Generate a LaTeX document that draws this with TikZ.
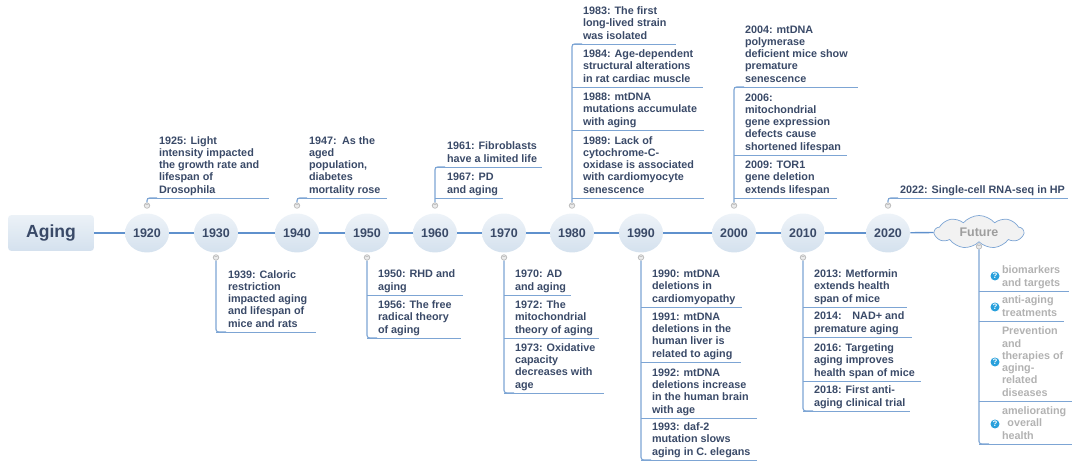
\documentclass[tikz,border=0pt]{standalone}
\usepackage{fontspec}
\setmainfont{Liberation Sans}
\usetikzlibrary{positioning,calc,shapes.symbols,shapes.geometric}
\definecolor{inkblue}{RGB}{58,74,104}
\definecolor{branchblue}{RGB}{125,165,212}
\definecolor{trunkblue}{RGB}{95,145,205}
\definecolor{fadegray}{RGB}{178,178,178}
\definecolor{shadeblue}{RGB}{212,225,238}
\definecolor{askblue}{RGB}{40,160,220}
\begin{document}
\begin{tikzpicture}[
    x=0.02cm, y=-0.02cm,
    rootbox/.style={rectangle, rounded corners=2pt, top color=white!55!shadeblue, bottom color=shadeblue,
                    minimum width=1.72cm, minimum height=0.72cm, inner sep=0pt,
                    font=\fontsize{10}{12}\selectfont\bfseries, text=inkblue},
    yearball/.style={ellipse, top color=white!60!shadeblue, bottom color=shadeblue,
                     minimum width=0.88cm, minimum height=0.78cm, inner sep=0pt,
                     font=\fontsize{7.1}{9}\selectfont\bfseries, text=inkblue},
    futurecloud/.style={cloud, cloud puffs=9, cloud puff arc=100, aspect=2.7, draw=branchblue, fill=white!95!black,
                     minimum width=1.78cm, minimum height=0.66cm, inner sep=0pt,
                     font=\fontsize{7.1}{9}\selectfont\bfseries, text=black!38},
    entry/.style={inner sep=0pt, outer sep=0pt, anchor=base west, align=left,
                  font=\fontsize{6.15}{7}\selectfont\bfseries, text=inkblue},
    fadeentry/.style={entry, text=fadegray},
    marker/.style={circle, draw=gray!55, fill=black!8, minimum size=0.11cm, inner sep=0pt,
                   font=\fontsize{3}{3}\selectfont, text=gray},
    askmark/.style={circle, fill=askblue, minimum size=0.18cm, inner sep=0pt,
                    font=\fontsize{4.5}{5}\selectfont\bfseries, text=white},
    link/.style={trunkblue, line width=0.8pt},
    trunk/.style={branchblue, line width=0.65pt, rounded corners=1.5pt},
    rule/.style={branchblue, line width=0.45pt}
]

\useasboundingbox (0,0) rectangle (1080,466);

\node[rootbox] (aging) at (51,233) {Aging};

\foreach \yr/\x in {1920/147, 1930/216, 1940/297, 1950/367, 1960/435, 1970/504,
                    1980/572, 1990/641, 2000/734, 2010/803, 2020/888} {
    \node[yearball] (y\yr) at (\x,233) {\yr};
}
\node[futurecloud] (future) at (979,232) {Future};

\foreach \a/\b in {aging/y1920, y1920/y1930, y1930/y1940, y1940/y1950, y1950/y1960, y1960/y1970,
                   y1970/y1980, y1980/y1990, y1990/y2000, y2000/y2010, y2010/y2020, y2020/future} {
    \draw[link] (\a) -- (\b);
}

% markers above
\foreach \yr/\top in {1920/198, 1940/198, 1960/167, 1980/44, 2000/87, 2020/198} {
    \node[marker, above=0.09cm of y\yr.north] (m\yr) {--};
    \coordinate (c\yr) at (m\yr |- 0,\top);
    \draw[trunk] (m\yr) -- (c\yr) -- ++(10,0);
}
% markers below
\foreach \yr/\bot in {1930/332, 1950/338, 1970/393, 1990/460, 2010/411} {
    \node[marker, below=0.03cm of y\yr.south] (m\yr) {--};
    \coordinate (c\yr) at (m\yr |- 0,\bot);
    \draw[trunk] (m\yr) -- (c\yr) -- ++(10,0);
}
\node[marker, below=0.02cm of future.south] (mfuture) {--};
\coordinate (cfuture) at (mfuture |- 0,444);
\draw[trunk] (mfuture) -- (cfuture) -- ++(10,0);

% entries
\foreach \nm/\bx/\by/\ex/\tx/\txt in {
    a/147/198/269/159/{1925: Light\\intensity impacted\\the growth rate and\\lifespan of\\Drosophila},
    b/216/332/316/228/{1939: Caloric\\restriction\\impacted aging\\and lifespan of\\mice and rats},
    c/297/198/387/309/{1947:\enspace As the\\aged\\population,\\diabetes\\mortality rose},
    d/367/295/463/378/{1950: RHD and\\aging},
    e/367/338/461/378/{1956: The free\\radical theory\\of aging},
    f/435/167/542/447/{1961: Fibroblasts\\have a limited life},
    g/435/198/503/447/{1967: PD\\and aging},
    h/504/295/571/515/{1970: AD\\and aging},
    i/504/338/599/515/{1972: The\\mitochondrial\\theory of aging},
    j/504/393/604/515/{1973: Oxidative\\capacity\\decreases with\\age},
    k/572/44/676/583/{1983: The first\\long-lived strain\\was isolated},
    l/572/87/703/583/{1984: Age-dependent\\structural alterations\\in rat cardiac muscle},
    m/572/130/704/583/{1988: mtDNA\\mutations accumulate\\with aging},
    n/572/198/704/583/{1989: Lack of\\cytochrome-C-\\oxidase is associated\\with cardiomyocyte\\senescence},
    o/641/307/742/652/{1990: mtDNA\\deletions in\\cardiomyopathy},
    p/641/362/741/652/{1991: mtDNA\\deletions in the\\human liver is\\related to aging},
    q/641/418/757/652/{1992: mtDNA\\deletions increase\\in the human brain\\with age},
    r/641/460/757/652/{1993: daf-2\\mutation slows\\aging in C. elegans},
    s/734/87/858/745/{2004: mtDNA\\polymerase\\deficient mice show\\premature\\senescence},
    t/734/155/847/745/{2006:\\mitochondrial\\gene expression\\defects cause\\shortened lifespan},
    u/734/198/837/745/{2009: TOR1\\gene deletion\\extends lifespan},
    v/803/307/907/814/{2013: Metformin\\extends health\\span of mice},
    w/803/337/912/814/{2014:\enspace\enspace NAD+ and\\premature aging},
    x/803/381/921/814/{2016: Targeting\\aging improves\\health span of mice},
    y/803/411/910/814/{2018: First anti-\\aging clinical trial},
    z/888/198/1068/900/{2022: Single-cell RNA-seq in HP}} {
    \node[entry] (t\nm) at (\tx,\by-4.8) {\txt};
    \coordinate (b\nm) at (\bx,\by);
    \coordinate (r\nm) at (\ex,\by);
    \draw[rule] (b\nm) -- (r\nm);
}

% future items
\foreach \nm/\by/\ex/\ay/\txt in {
    fa/291/1069/276/{biomarkers\\and targets},
    fb/321/1064/307/{anti-aging\\treatments},
    fc/401/1072/362/{Prevention\\and\\therapies of\\aging-\\related\\diseases},
    fd/444/1072/424/{ameliorating\\\enspace overall\\health}} {
    \node[fadeentry] (t\nm) at (1002,\by-4.8) {\txt};
    \node[askmark] (q\nm) at (995,\ay) {?};
    \coordinate (b\nm) at (979,\by);
    \coordinate (r\nm) at (\ex,\by);
    \draw[rule] (b\nm) -- (r\nm);
}

\end{tikzpicture}
\end{document}
